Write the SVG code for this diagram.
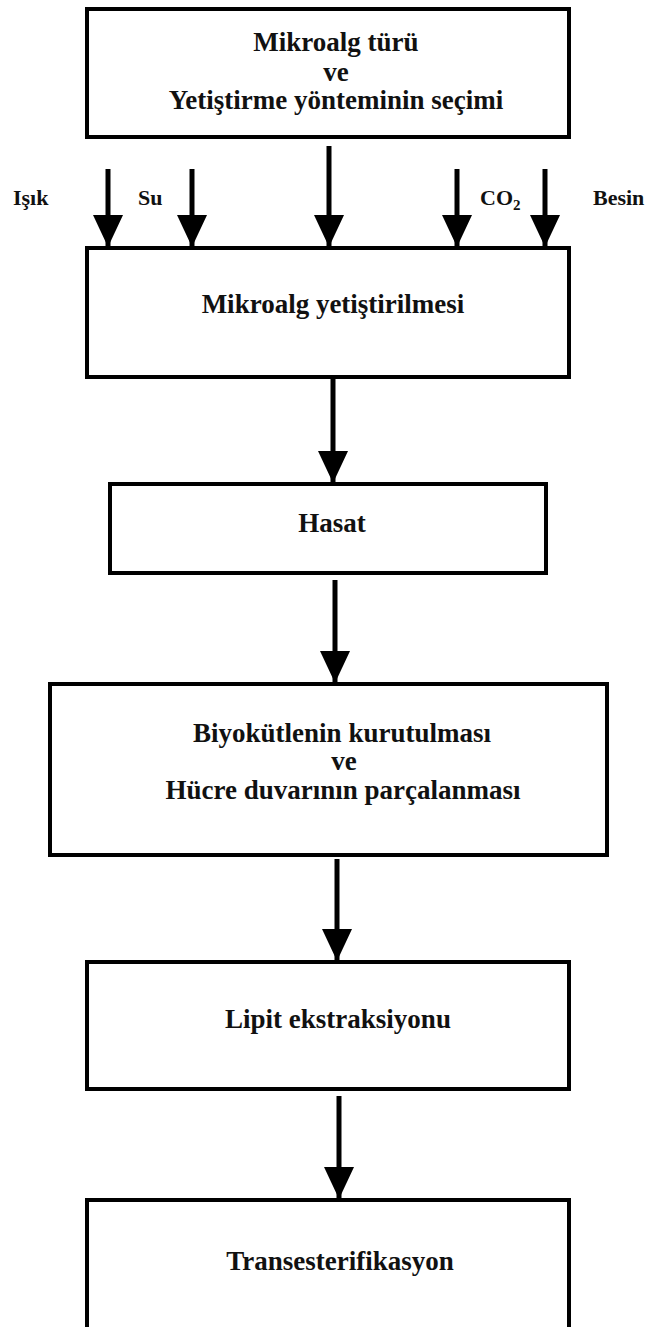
<svg xmlns="http://www.w3.org/2000/svg" width="647" height="1327" viewBox="0 0 647 1327">
<style>
.box{fill:#fff;stroke:#000;stroke-width:4}
.t{font-family:"Liberation Serif","Times New Roman",serif;font-weight:bold;font-size:27px;fill:#111;text-anchor:middle}
.lbl{font-family:"Liberation Serif","Times New Roman",serif;font-weight:bold;font-size:22px;fill:#111}
.conn{stroke:#000;stroke-width:5;fill:none;marker-end:url(#ah)}
</style>
<defs>
<marker id="ah" viewBox="0 0 32 30" refX="32" refY="15" markerWidth="32" markerHeight="30" markerUnits="userSpaceOnUse" orient="auto">
<path d="M0,0 L32,15 L0,30 Z" fill="#000"/>
</marker>
</defs>
<rect width="647" height="1327" fill="#fff"/>
<g id="connectors">
<line class="conn" x1="108" y1="169" x2="108" y2="247"/>
<line class="conn" x1="192" y1="169" x2="192" y2="247"/>
<line class="conn" x1="329" y1="146" x2="329" y2="247"/>
<line class="conn" x1="457" y1="169" x2="457" y2="247"/>
<line class="conn" x1="545" y1="169" x2="545" y2="247"/>
<line class="conn" x1="333" y1="378" x2="333" y2="483"/>
<line class="conn" x1="335" y1="580" x2="335" y2="683"/>
<line class="conn" x1="337" y1="859" x2="337" y2="961"/>
<line class="conn" x1="339" y1="1096" x2="339" y2="1199"/>
</g>
<g id="labels">
<text class="lbl" x="13" y="205">Işık</text>
<text class="lbl" x="138" y="205">Su</text>
<text class="lbl" x="480" y="205">CO<tspan font-size="15" dy="5">2</tspan></text>
<text class="lbl" x="593" y="205">Besin</text>
</g>
<g id="node-secim">
<rect class="box" x="87" y="9" width="482" height="128"/>
<text class="t" x="336" y="51">Mikroalg türü</text>
<text class="t" x="336" y="81">ve</text>
<text class="t" x="336" y="109">Yetiştirme yönteminin seçimi</text>
</g>
<g id="node-yetistirme">
<rect class="box" x="87" y="248" width="482" height="129"/>
<text class="t" x="333" y="313">Mikroalg yetiştirilmesi</text>
</g>
<g id="node-hasat">
<rect class="box" x="110" y="484" width="436" height="89"/>
<text class="t" x="332" y="532">Hasat</text>
</g>
<g id="node-kurutma">
<rect class="box" x="50" y="684" width="557" height="171"/>
<text class="t" x="342" y="742">Biyokütlenin kurutulması</text>
<text class="t" x="344" y="770">ve</text>
<text class="t" x="343" y="799">Hücre duvarının parçalanması</text>
</g>
<g id="node-lipit">
<rect class="box" x="87" y="962" width="482" height="127"/>
<text class="t" x="338" y="1028">Lipit ekstraksiyonu</text>
</g>
<g id="node-trans">
<rect class="box" x="87" y="1200" width="482" height="140"/>
<text class="t" x="340" y="1270">Transesterifikasyon</text>
</g>
</svg>
